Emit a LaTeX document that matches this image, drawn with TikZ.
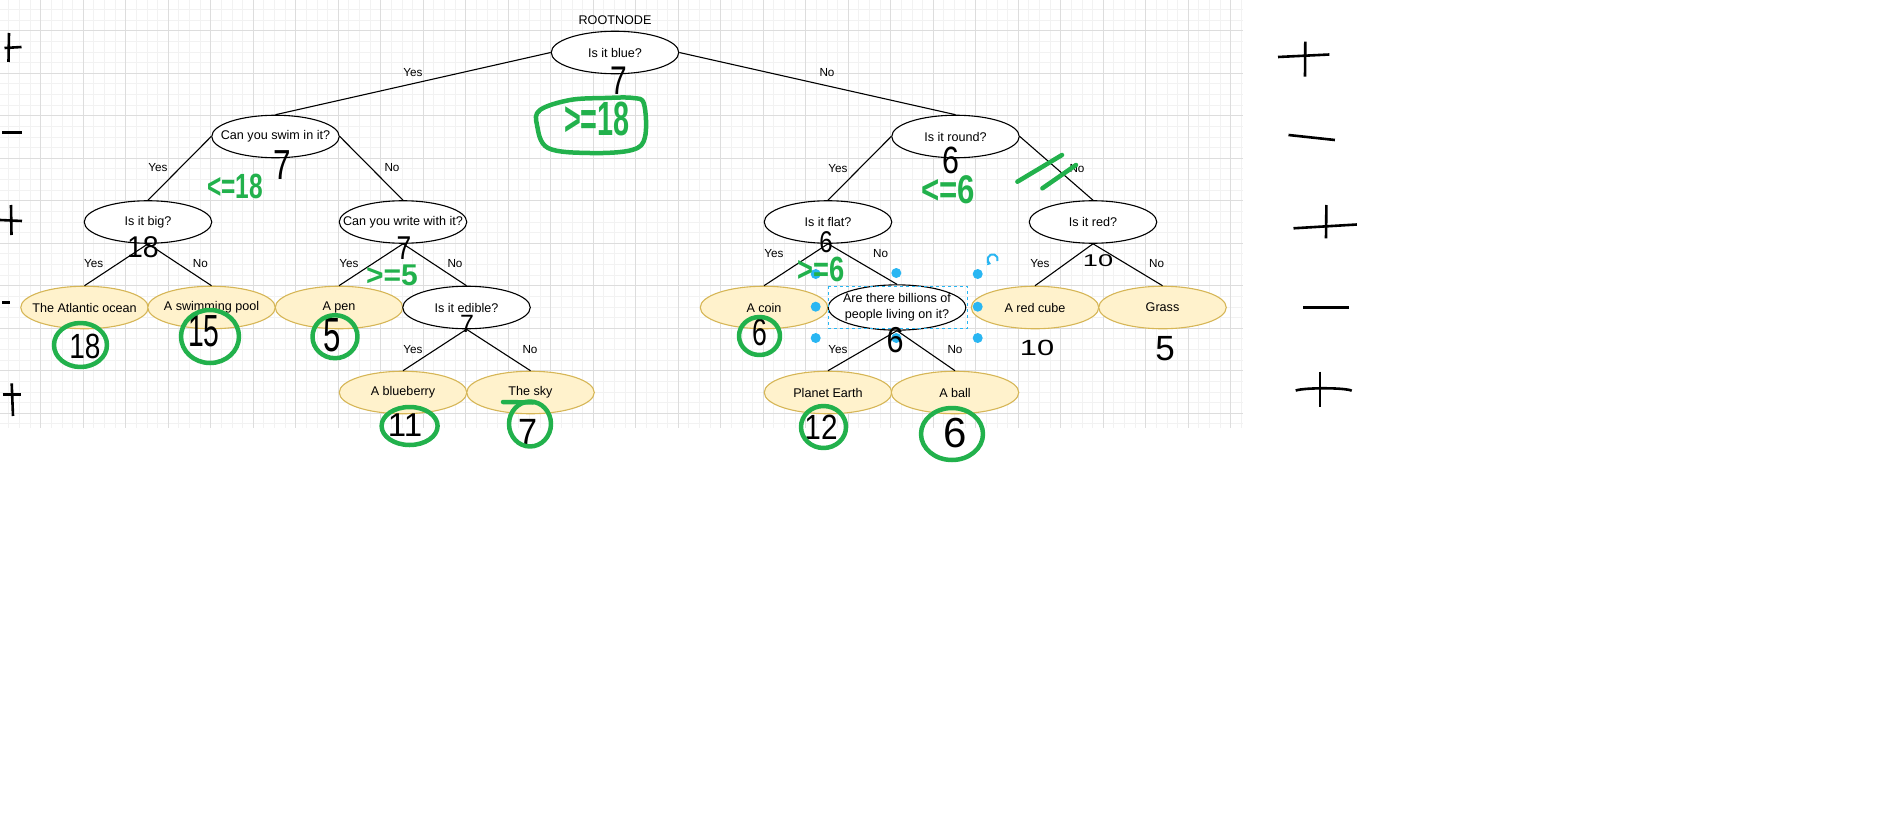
\documentclass[tikz,border=0pt]{standalone}
\usepackage{fontspec}
\usepackage{graphicx}
\setmainfont{Liberation Sans}
\usetikzlibrary{shapes.geometric,arrows.meta}
\definecolor{leaffill}{HTML}{FFF2CC}
\definecolor{leafdraw}{HTML}{D6B656}
\definecolor{paintgreen}{RGB}{34,177,76}
\definecolor{selblue}{HTML}{29B6F2}
\definecolor{gridmajor}{HTML}{DDDDDD}
\definecolor{gridminor}{HTML}{F2F2F2}
\newcommand{\handtext}[2]{\scalebox{#1}[1]{#2}}
\newcommand{\nt}[1]{\makebox[0pt][c]{#1}}
\begin{document}
\begin{tikzpicture}[x=1pt,y=-1pt,
  dec/.style={ellipse, draw=black, fill=white, line width=1.1pt, minimum width=127.5pt, minimum height=42.5pt, inner sep=0pt, font=\fontsize{12.6}{16}\selectfont},
  leaf/.style={dec, draw=leafdraw, fill=leaffill},
  conn/.style={draw=black, line width=1.1pt},
  elab/.style={font=\fontsize{11.7}{14}\selectfont, inner sep=0pt},
  blackink/.style={text=black, inner sep=0pt},
  greenink/.style={text=paintgreen, inner sep=0pt},
  blackpen/.style={draw=black, line width=2.6pt},
  greenpen/.style={draw=paintgreen, line width=4.5pt, line cap=round, line join=round},
  handle/.style={fill=selblue}
]
\useasboundingbox (0,0) rectangle (1901,816);
\fill[white] (0,0) rectangle (1901,816);
% grid
\foreach \i in {-3,...,113} { \draw[gridminor, line width=0.8pt] ({40.7+10.625*\i},0) -- ({40.7+10.625*\i},428); }
\foreach \i in {-2,...,37} { \draw[gridminor, line width=0.8pt] (0,{30.7+10.625*\i}) -- (1243,{30.7+10.625*\i}); }
\foreach \i in {0,...,28} { \draw[gridmajor, line width=0.9pt] ({40.7+42.5*\i},0) -- ({40.7+42.5*\i},428); }
\foreach \i in {0,...,9} { \draw[gridmajor, line width=0.9pt] (0,{30.7+42.5*\i}) -- (1243,{30.7+42.5*\i}); }

% nodes
\node[inner sep=0pt, font=\fontsize{12.6}{15}\selectfont] (rootlabel) at (615,20) {ROOTNODE};
\node[dec] (root) at (615,52.5) {\nt{Is it blue?}};
\node[dec] (swim) at (275.5,136.5) {\nt{Can you swim in it?}};
\node[dec] (round) at (955.5,136.5) {\nt{Is it round?}};
\node[dec] (big) at (148,222) {\nt{Is it big?}};
\node[dec] (write) at (403,222) {\nt{Can you write with it?}};
\node[dec] (flat) at (828,222) {\nt{Is it flat?}};
\node[dec] (red) at (1093,222) {\nt{Is it red?}};
\node[leaf] (atl) at (84.5,307.5) {\nt{The Atlantic ocean}};
\node[leaf] (pool) at (211.5,307.5) {\nt{A swimming pool}};
\node[leaf] (pen) at (339,307.5) {\nt{A pen}};
\node[dec] (edible) at (466.5,307.5) {\nt{Is it edible?}};
\node[leaf] (coin) at (764,307.5) {\nt{A coin}};
\node[dec, minimum width=137.5pt] (bill) at (897,307.5) {\nt{\begin{tabular}{@{}c@{}}Are there billions of\\people living on it?\end{tabular}}};
\node[leaf] (cube) at (1035,307.5) {\nt{A red cube}};
\node[leaf] (grass) at (1162.5,307.5) {\nt{Grass}};
\node[leaf] (blueb) at (403,392.5) {\nt{A blueberry}};
\node[leaf] (sky) at (530.5,392.5) {\nt{The sky}};
\node[leaf] (earth) at (828,392.5) {\nt{Planet Earth}};
\node[leaf] (ball) at (955,392.5) {\nt{A ball}};

% connectors
\draw[conn] (root.west) -- (swim.north);
\draw[conn] (root.east) -- (round.north);
\draw[conn] (swim.west) -- (big.north);
\draw[conn] (swim.east) -- (write.north);
\draw[conn] (big.south) -- (atl.north);
\draw[conn] (big.south) -- (pool.north);
\draw[conn] (write.south) -- (pen.north);
\draw[conn] (write.south) -- (edible.north);
\draw[conn] (edible.south) -- (blueb.north);
\draw[conn] (edible.south) -- (sky.north);
\draw[conn] (round.west) -- (flat.north);
\draw[conn] (round.east) -- (red.north);
\draw[conn] (flat.south) -- (coin.north);
\draw[conn] (flat.south) -- (bill.north);
\draw[conn] (red.south) -- (cube.north);
\draw[conn] (red.south) -- (grass.north);
\draw[conn] (bill.south) -- (earth.north);
\draw[conn] (bill.south) -- (ball.north);

% connector labels
\node[elab] (l1) at (413,72.7) {Yes};
\node[elab] (l2) at (827,72.7) {No};
\node[elab] (l3) at (158,168) {Yes};
\node[elab] (l4) at (392,168) {No};
\node[elab] (l5) at (93.7,264) {Yes};
\node[elab] (l6) at (200.4,264) {No};
\node[elab] (l7) at (349,264) {Yes};
\node[elab] (l8) at (455,264) {No};
\node[elab] (l9) at (413,349.3) {Yes};
\node[elab] (l10) at (530,349.3) {No};
\node[elab] (l11) at (838,168.3) {Yes};
\node[elab] (l12) at (1077,168.3) {No};
\node[elab] (l13) at (774,253.3) {Yes};
\node[elab] (l14) at (880.6,253.3) {No};
\node[elab] (l15) at (1040,264) {Yes};
\node[elab] (l16) at (1156.6,264) {No};
\node[elab] (l17) at (838,349.3) {Yes};
\node[elab] (l18) at (955,349.3) {No};

% selection decoration
\draw[selblue, line width=1pt, dash pattern=on 3pt off 3pt] (828.5,286) rectangle (967,328.5);
\foreach \hx/\hy in {815.7/274, 896.3/273, 977.7/274, 815.7/306.7, 977.7/306.7, 815.7/338, 896.3/338, 977.7/338}
  { \fill[handle] (\hx,\hy) circle[radius=5pt]; }
\draw[selblue, line width=2pt, -{Triangle[length=3.5pt,width=5pt]}] (992.7,259.3) ++(-20:5pt) arc[start angle=-20, end angle=250, radius=5pt];

% black handwriting
\node[blackink, font=\fontsize{40}{40}\selectfont] (a7root) at (619,81) {\handtext{0.75}{7}};
\node[blackink, font=\fontsize{42}{42}\selectfont] (a7swim) at (282,165) {\handtext{0.75}{7}};
\node[blackink, font=\fontsize{30}{30}\selectfont] (a18big) at (143,247) {\handtext{0.95}{18}};
\node[blackink, font=\fontsize{33}{33}\selectfont] (a7write) at (404,248) {\handtext{0.8}{7}};
\node[blackink, font=\fontsize{35}{35}\selectfont] (a18atl) at (85,346) {\handtext{0.8}{18}};
\node[blackink, font=\fontsize{45}{45}\selectfont] (a15pool) at (204,331) {\handtext{0.63}{15}};
\node[blackink, font=\fontsize{48}{48}\selectfont] (a5pen) at (332.5,335) {\handtext{0.65}{5}};
\node[blackink, font=\fontsize{25}{25}\selectfont] (a7edible) at (467,324) {7};
\node[blackink, font=\fontsize{33}{33}\selectfont] (a11blue) at (405,425) {11};
\node[blackink, font=\fontsize{38}{38}\selectfont] (a7sky) at (528,432) {\handtext{0.9}{7}};
\node[blackink, font=\fontsize{38}{38}\selectfont] (a6round) at (951,160) {\handtext{0.8}{6}};
\node[blackink, font=\fontsize{30}{30}\selectfont] (a6flat) at (826,242) {\handtext{0.8}{6}};
\node[blackink, font=\fontsize{38}{38}\selectfont] (a6coin) at (760,332) {\handtext{0.7}{6}};
\node[blackink, font=\fontsize{36}{36}\selectfont] (a6bill) at (895,340) {\handtext{0.85}{6}};
\node[blackink, font=\fontsize{17}{17}\selectfont] (a10red) at (1098,261) {\handtext{1.6}{10}};
\node[blackink, font=\fontsize{22}{22}\selectfont] (a10cube) at (1037,348) {\handtext{1.4}{10}};
\node[blackink, font=\fontsize{35}{35}\selectfont] (a5grass) at (1165,349) {5};
\node[blackink, font=\fontsize{35}{35}\selectfont] (a12earth) at (821,427) {\handtext{0.85}{12}};
\node[blackink, font=\fontsize{42}{42}\selectfont] (a6ball) at (955,433) {6};

% green handwriting
\node[greenink, font=\fontsize{48}{48}\selectfont\bfseries] (g18root) at (597,119) {\handtext{0.6}{>=18}};
\node[greenink, font=\fontsize{35}{35}\selectfont\bfseries] (g18swim) at (235,186) {\handtext{0.7}{<=18}};
\node[greenink, font=\fontsize{30}{30}\selectfont\bfseries] (g5write) at (392,275) {>=5};
\node[greenink, font=\fontsize{40}{40}\selectfont\bfseries] (g6round) at (948,190) {\handtext{0.78}{<=6}};
\node[greenink, font=\fontsize{35}{35}\selectfont\bfseries] (g6flat) at (821,269) {\handtext{0.78}{>=6}};

% green circles and strokes
\draw[greenpen] plot[smooth cycle, tension=0.6] coordinates {(540,110) (570,100) (605,98) (633,98) (644,104) (645,137) (632,150) (590,153) (548,148) (537,125)};
\draw[greenpen] (80.5,345) ellipse[x radius=26.5pt, y radius=22pt];
\draw[greenpen] (210,336.5) ellipse[x radius=29pt, y radius=26.5pt];
\draw[greenpen] (335,336.7) ellipse[x radius=22.5pt, y radius=21.5pt];
\draw[greenpen] (409.6,426) ellipse[x radius=28pt, y radius=19pt];
\draw[greenpen] (530,424) ellipse[x radius=21pt, y radius=22.5pt];
\draw[greenpen] (759.5,336) ellipse[x radius=20.5pt, y radius=19pt];
\draw[greenpen] (823.5,427) ellipse[x radius=22.5pt, y radius=21pt];
\draw[greenpen] (952,434) ellipse[x radius=31pt, y radius=26pt];
\draw[greenpen] (503,402) -- (533,402.5);
\draw[greenpen] (1017.4,181.7) -- (1062,155);
\draw[greenpen] (1042.4,188.3) -- (1076,165);

% margin marks, left
\draw[blackpen] (9,33) -- (8.5,62);
\draw[blackpen] (4.5,48) -- (21.5,47);
\draw[blackpen] (2,132.7) -- (22,132.7);
\draw[blackpen] (11,205) -- (11.5,235);
\draw[blackpen] (0,220) -- (22,221);
\draw[blackpen] (2,302.7) -- (10,302.7);
\draw[blackpen] (11.7,383.3) -- (13,416);
\draw[blackpen] (2.7,394.3) -- (20.7,394.3);
% margin marks, right
\draw[blackpen] (1305.3,41.7) -- (1305,76.7);
\draw[blackpen] (1278,57) -- (1329.4,54.5);
\draw[blackpen] (1288.5,135) -- (1334.9,140);
\draw[blackpen] (1326.4,205) -- (1326,238.3);
\draw[blackpen] (1293.5,228.3) -- (1356.8,224.5);
\draw[blackpen] (1303,307.7) -- (1348.8,307.7);
\draw[blackpen] (1320,371.7) -- (1320,407.3);
\draw[blackpen] (1295.7,390.5) .. controls (1305,387.5) and (1345,387.5) .. (1351.7,390.7);
\end{tikzpicture}
\end{document}
